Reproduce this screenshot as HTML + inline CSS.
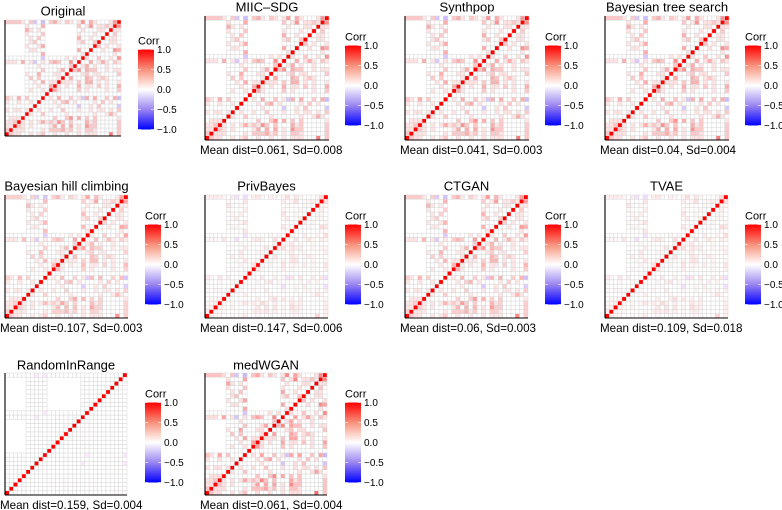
<!DOCTYPE html>
<html><head><meta charset="utf-8">
<style>
html,body{margin:0;padding:0;background:#fff;}
svg{display:block;font-family:"Liberation Sans",Arial,sans-serif;}
</style></head>
<body>
<svg id="fig" width="782" height="510" viewBox="0 0 782 510">
<defs>
<linearGradient id="cbar" x1="0" y1="1" x2="0" y2="0">
<stop offset="0" stop-color="#0000ff"/>
<stop offset="0.25" stop-color="#9b85f0"/>
<stop offset="0.5" stop-color="#ffffff"/>
<stop offset="0.75" stop-color="#f7917c"/>
<stop offset="1" stop-color="#ff0000"/>
</linearGradient>
</defs>
</svg>
<script>
// ---- data ----
const panelNames = ["Original","MIIC\u2013SDG","Synthpop","Bayesian tree search","Bayesian hill climbing","PrivBayes","CTGAN","TVAE","RandomInRange","medWGAN"];
const panelSubtitles = ["","Mean dist=0.061, Sd=0.008","Mean dist=0.041, Sd=0.003","Mean dist=0.04, Sd=0.004","Mean dist=0.107, Sd=0.003","Mean dist=0.147, Sd=0.006","Mean dist=0.06, Sd=0.003","Mean dist=0.109, Sd=0.018","Mean dist=0.159, Sd=0.004","Mean dist=0.061, Sd=0.004"];
const panelStrength = [1.0, 1.0, 1.0, 1.0, 0.8, 0.3, 0.9, 0.3, 0.03, 1.1];
const colorbarTicks = [1.0, 0.5, 0.0, -0.5, -1.0];
const colorbarLabels = ["1.0","0.5","0.0","\u22120.5","\u22121.0"];
const variableGroups = [0,0,0,0,0,1,2,3,3,3,4,4,4,4,4,4,4,4,5,6,7,7,7,7,7,7,7,7,8];
// hidden (row group, column group) combos
const hiddenBlocks = [[7,0],[7,4],[4,0]];
// correlation pairs [varA, varB, r]
const corrPairs = [
[28,0,.2],[28,1,.2],[28,2,.2],[28,3,.2],[28,4,.1],[28,6,.2],[28,11,.2],[28,12,.3],[28,13,.1],[28,15,.2],[28,16,.1],[28,18,.1],[28,21,.3],[28,22,.1],[28,26,.1],[28,27,.4],[28,19,.4],
[27,5,.1],[27,9,.3],[27,18,.2],[27,21,.1],[27,24,.1],
[26,5,.3],[26,6,.1],[26,8,.1],[26,19,.1],[26,23,.1],[26,27,.1],
[25,5,.1],[25,9,.2],[25,18,.1],[25,22,.1],[25,27,.2],
[24,6,.1],[24,8,.2],[24,18,.3],[24,21,.1],[24,26,.1],
[23,7,.2],[23,18,.1],[23,19,.2],[23,22,.2],[23,27,.1],
[22,5,.1],[22,8,.1],[22,9,.3],[22,25,.1],
[21,6,.1],[21,7,.1],[21,18,.3],[21,27,.4],
[20,9,.3],[20,19,.1],[20,27,.1],
[19,15,.1],
[18,0,.1],[18,1,.1],[18,2,.1],[18,6,.1],[18,9,.1],[18,11,.2],[18,12,.3],[18,13,.2],[18,16,.4],
[17,8,.1],[17,16,.2],[17,20,.3],[17,22,.1],[17,25,.1],[17,19,.1],
[16,9,.2],[16,13,.1],[16,14,.3],[16,20,.3],[16,21,.2],[16,22,.2],[16,25,.1],[16,27,.1],
[15,5,.1],[15,8,.3],[15,12,.1],[15,13,.1],[15,20,.2],[15,22,.1],[15,23,.1],
[14,6,.2],[14,8,.2],[14,20,.3],[14,21,.2],[14,23,.1],[14,24,.2],[14,25,.1],[14,13,.1],
[13,7,.1],[13,9,.3],[13,11,.1],[13,12,.1],[13,20,.3],[13,21,.3],[13,23,.1],[13,25,.1],
[12,8,.1],[12,11,.3],[12,20,.1],[12,21,.1],[12,23,.2],[12,25,.1],
[11,9,.1],[11,20,.1],[11,25,.1],
[9,0,.2],[9,1,.3],[9,3,.3],[9,5,.2],[9,19,-.15],[9,28,-.2],
[8,0,.1],[8,6,.3],[7,18,-.15],[7,28,-.15],
[6,0,.1],[6,2,.1],[6,3,.1],[6,5,.1],[6,8,.1],[6,11,.1],[6,23,.1],
[4,12,.2],[4,15,.2],[4,16,.4],[4,18,.3],[4,20,.2],[4,22,.2],
[3,0,.1],[3,1,.1],[3,2,.2],[3,4,.1],[3,8,.1],[3,10,.1],[3,11,.2],[3,12,.1],[3,13,.4],[3,14,.2],[3,16,.2],[3,20,.3],[3,21,.1],[3,22,.2],
[2,0,.1],[2,1,.1],[2,4,.1],[2,6,.1],[2,11,.1],[2,12,.3],[2,14,.3],[2,16,.3],[2,18,.1],[2,20,.4],[2,21,.2],[2,22,.2],
[1,0,.2],[1,4,.1],[1,9,.1],[1,11,.2],[1,12,.2],[1,13,.2],[1,14,.3],[1,15,.1],[1,16,.2],[1,20,.2],[1,21,.2],[1,22,.1],
[0,12,.1],[0,15,.1],[0,20,.1],[0,21,.1],[0,22,.1],[0,26,.5]
];
const panelLayout = [
 {x:5,y:20,s:116,bx:138},
 {x:205,y:16,s:124,bx:345},{x:405,y:16,s:124,bx:545},{x:605,y:16,s:124,bx:745},
 {x:5,y:195,s:123,bx:145},{x:205,y:195,s:123,bx:345},{x:405,y:195,s:123,bx:545},{x:605,y:195,s:123,bx:745},
 {x:5,y:373,s:122,bx:145},{x:205,y:373,s:122,bx:345}
];
const titleY = [11,7,7,7,186,186,186,186,365,365];

// ---- helpers ----
const NS = "http://www.w3.org/2000/svg";
const svg = document.getElementById("fig");
function mk(tag, attrs, parent){
  const e = document.createElementNS(NS, tag);
  for (const k in attrs) e.setAttribute(k, attrs[k]);
  (parent||svg).appendChild(e);
  return e;
}
const NV = variableGroups.length;
const baseMatrix = [];
for (let i=0;i<NV;i++){ baseMatrix.push(new Array(NV).fill(0)); baseMatrix[i][i]=1; }
corrPairs.forEach(p => { baseMatrix[p[0]][p[1]] = p[2]; baseMatrix[p[1]][p[0]] = p[2]; });
function isHidden(r,c){
  const gr = variableGroups[r], gc = variableGroups[c];
  return hiddenBlocks.some(h => h[0]===gr && h[1]===gc);
}
function colorFor(v){
  v = Math.max(-1, Math.min(1, v));
  if (v >= 0){
    const g = Math.round(255*(1-v)*(1-0.12*v));
    return "rgb(255,"+g+","+g+")";
  } else {
    const t = -v;
    const r = Math.round(255*(1-t));
    return "rgb("+r+","+Math.round(r*0.92)+",255)";
  }
}

// ---- draw panels ----
panelNames.forEach((name, p) => {
  const L = panelLayout[p];
  const g = mk("g", {});
  
  
  const cs = L.s/NV;
  const strength = panelStrength[p];
  for (let r=0;r<NV;r++){
    for (let c=0;c<NV;c++){
      if (isHidden(r,c)) continue;
      const v0 = baseMatrix[r][c];
      const v = (r===c) ? 1 : v0*strength;
      const yy = L.y + (NV-1-r)*cs;
      const cell = mk("rect", {x:(L.x+c*cs).toFixed(2), y:yy.toFixed(2), width:cs.toFixed(2), height:cs.toFixed(2), fill:colorFor(v), stroke:"#d4d4d4", "stroke-width":"0.45"}, g);
      
      
    }
  }
  const ax1 = mk("line", {x1:L.x, y1:L.y, x2:L.x, y2:L.y+L.s, stroke:"#000", "stroke-width":"1.1"}, g);
  
  
  const ax2 = mk("line", {x1:L.x, y1:L.y+L.s, x2:L.x+L.s, y2:L.y+L.s, stroke:"#000", "stroke-width":"1.1"}, g);
  
  
  const t = mk("text", {x:L.x+L.s/2, y:titleY[p]+4.5, "text-anchor":"middle", "font-size":"13", fill:"#000"}, g);
  t.textContent = name;
  
  
  if (panelSubtitles[p]){
    const st = mk("text", {x:L.x-5, y:L.y+L.s+14, "font-size":"11.6", fill:"#000"}, g);
    st.textContent = panelSubtitles[p];
    
    
  }
  // colorbar
  const bt = L.y + 29.5, bh = 80, bw = 16;
  const ct = mk("text", {x:L.bx, y:bt-5, "font-size":"11", fill:"#000"}, g);
  ct.textContent = "Corr";
  
  
  const bar = mk("rect", {x:L.bx, y:bt, width:bw, height:bh, fill:"url(#cbar)"}, g);
  
  
  colorbarTicks.forEach((tv, i) => {
    const yy = bt + (1 - (tv+1)/2)*bh;
    mk("line", {x1:L.bx, x2:L.bx+3, y1:yy, y2:yy, stroke:"#fff", "stroke-width":"0.6"}, g);
    mk("line", {x1:L.bx+bw-3, x2:L.bx+bw, y1:yy, y2:yy, stroke:"#fff", "stroke-width":"0.6"}, g);
    const lt = mk("text", {x:L.bx+19, y:yy+3.6, "font-size":"10", fill:"#000"}, g);
    lt.textContent = colorbarLabels[i];
    
    
  });
});
</script>
</body></html>
